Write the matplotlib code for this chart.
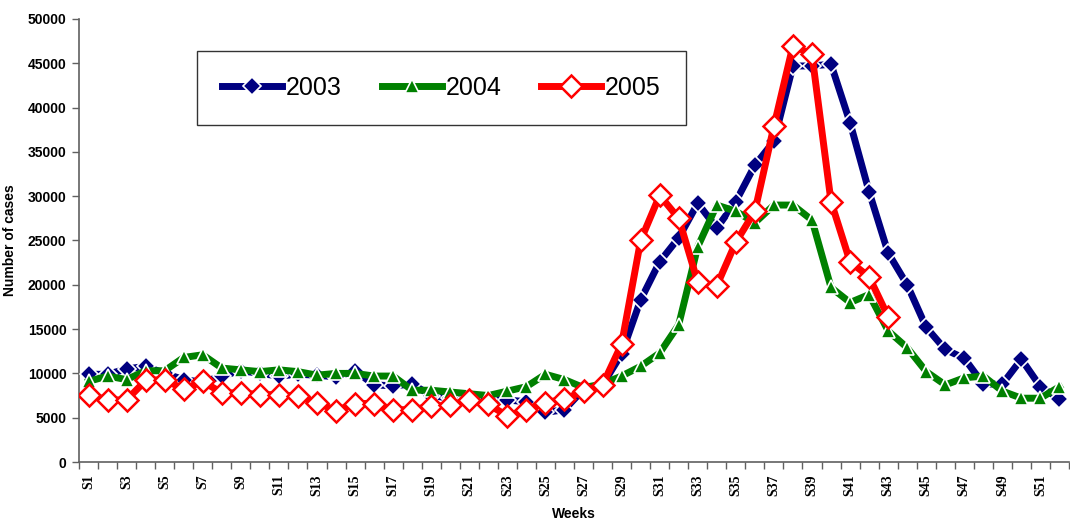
import numpy as np
import matplotlib
matplotlib.use('Agg')
import matplotlib.pyplot as plt
from matplotlib.ticker import FixedLocator, NullFormatter

weeks = ['S%d' % i for i in range(1, 53)]

cases_2003 = [9900, 9900, 10500, 10800, 10000, 9300, 9000, 9700, 10300, 10000,
              9700, 9900, 9800, 9600, 10300, 8700, 8600, 8800, 7500, 7200,
              7300, 7100, 7000, 6800, 5600, 5900, 8200, 8700, 12200, 18300,
              22600, 25300, 29200, 26400, 29400, 33500, 36200, 44700, 44700, 44900,
              38300, 30500, 23600, 20000, 15200, 12700, 11700, 8800, 8800, 11600,
              8500, 7100]

cases_2004 = [9100, 9700, 9300, 10300, 10300, 11800, 12100, 10600, 10400, 10200,
              10400, 10200, 9800, 10000, 10000, 9700, 9700, 8100, 8100, 7900,
              7700, 7500, 8000, 8500, 9900, 9300, 8400, 8800, 9700, 10800,
              12300, 15500, 24300, 29000, 28300, 27000, 29000, 29000, 27300, 19700,
              18000, 18900, 14800, 12900, 10200, 8700, 9500, 9700, 8000, 7200,
              7200, 8500]

cases_2005 = [7600, 7000, 7000, 9200, 9300, 8200, 9100, 7800, 7800, 7600,
              7600, 7400, 6700, 5800, 6600, 6600, 5900, 5900, 6300, 6400,
              7000, 6500, 5200, 5900, 6700, 7100, 8000, 8700, 13300, 25000,
              30100, 27500, 20300, 19900, 24800, 28300, 37900, 47000, 46000, 29400,
              22600, 20900, 16400]

sans = ['Liberation Sans', 'DejaVu Sans']

fig = plt.figure(figsize=(10.7, 5.23), dpi=100)
ax = fig.add_axes([79/1070, 61/523, 990/1070, 443/523])

x03 = np.arange(1, len(cases_2003) + 1)
x04 = np.arange(1, len(cases_2004) + 1)
x05 = np.arange(1, len(cases_2005) + 1)

ax.plot(x03, cases_2003, color='#000080', lw=5, marker='D', ms=9,
        mfc='#000080', mec='white', mew=1.2, label='2003', zorder=3)
ax.plot(x04, cases_2004, color='#008000', lw=5, marker='^', ms=10,
        mfc='#008000', mec='white', mew=1.2, label='2004', zorder=4)
ax.plot(x05, cases_2005, color='#ff0000', lw=5, marker='D', ms=11,
        mfc='white', mec='#ff0000', mew=1.8, label='2005', zorder=5)

ax.set_xlim(0.5, 52.5)
ax.set_ylim(0, 50000)
ax.set_yticks(np.arange(0, 50001, 5000))

# category ticks at boundaries, labels on odd weeks
ax.xaxis.set_major_locator(FixedLocator(np.arange(1, 53, 2)))
ax.set_xticklabels(weeks[::2], rotation=90, fontsize=10, fontweight='bold',
                   family='Liberation Serif')
ax.xaxis.set_minor_locator(FixedLocator(np.arange(0.5, 53, 1)))
ax.xaxis.set_minor_formatter(NullFormatter())
ax.tick_params(axis='x', which='major', length=0, pad=9)
ax.tick_params(axis='x', which='minor', length=5, width=1, color='#606060')
ax.tick_params(axis='y', length=5, width=1, color='#606060', pad=4)
for lab in ax.get_yticklabels():
    lab.set_family(sans)
    lab.set_fontweight('bold')
    lab.set_fontsize(10)

for s in ['top', 'right']:
    ax.spines[s].set_visible(False)
for s in ['left', 'bottom']:
    ax.spines[s].set_color('#606060')
    ax.spines[s].set_linewidth(1.2)

ax.set_ylabel('Number of cases', fontsize=10, fontweight='bold', family=sans)
ax.yaxis.set_label_coords(-0.063, 0.5)
ax.set_xlabel('Weeks', fontsize=10, fontweight='bold', family=sans, labelpad=8)

leg = ax.legend(loc='center', bbox_to_anchor=(0.366, 0.845), ncol=3,
                prop={'family': sans, 'size': 18}, frameon=True, fancybox=False,
                edgecolor='black', handlelength=2.4, handletextpad=0.15,
                columnspacing=1.6, borderpad=1.0, borderaxespad=0)
leg.get_frame().set_linewidth(1.0)

fig.savefig('out.png', dpi=100)
